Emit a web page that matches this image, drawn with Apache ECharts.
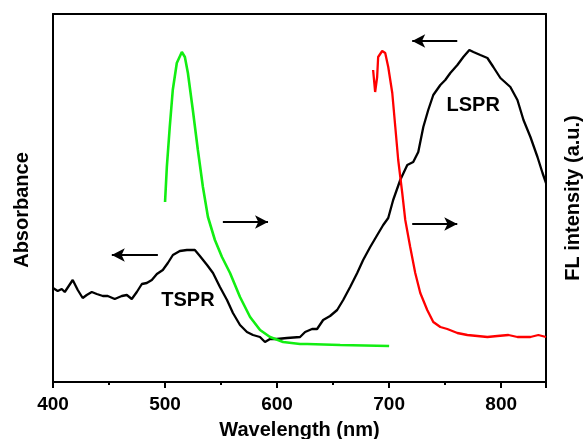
<!DOCTYPE html>
<html>
<head>
<meta charset="utf-8">
<script src="https://cdn.jsdelivr.net/npm/echarts@6/dist/echarts.min.js"></script>
<style>html,body{margin:0;padding:0;background:#fff}#c{width:584px;height:439px}</style>
</head>
<body>
<div id="c"></div>
<script>
// Absorbance spectrum (black) — wavelength nm, arbitrary units
const absWl = [400,401.5,404.2,407.8,410.5,417.6,422.1,426.5,430.1,434.6,439.1,444.5,448.9,455.1,461.4,465.9,470.3,474.8,479.3,483.7,488.2,492.7,498,502.5,507,513.2,519.5,526.6,531.1,537.5,542.8,549,555.3,560.6,566.9,573.1,578.5,584.7,589.2,593.7,599.9,608.9,620.5,625,631.2,635.7,641.1,647.3,653.6,659,665.2,671.5,676.8,683.1,689.4,694.7,699.2,703.6,709.9,716.2,721.5,726,730.5,734.9,739.4,745.7,750.1,754.6,760.9,766.2,771.6,775.2,781.4,787.7,793,799.3,808.2,814.5,819.9,826.1,832.4,836.9,840];
const absVal = [94,94,91,93,90,102,92,84,87,90,88,86,86,83,86,87,83,90,98,99,102,108,112,119,127,131,132,132,126,117,109,95,82,69,57,50,47,45,40,43,43,44,45,50,53,53,62,66,72,82,95,109,122,135,147,157,164,182,202,217,220,230,255,272,287,297,302,309,317,325,332,330,327,324,315,304,295,282,262,245,225,209,199];
// Fluorescence (green)
const flGreenWl = [500,501.6,504.2,506.9,510.5,515,517.7,520.4,524.8,529.3,533.8,538.3,544.5,550.8,558,566.9,575.9,584.8,593.7,605.4,620.5,626.8,656.3,700];
const flGreenVal = [180,215,255,292,319,330,325,309,272,232,195,165,142,125,109,85,65,52,45,40,38,38,37,36];
// Fluorescence (red)
const flRedWl = [685.7,687.5,689.3,690.2,693.8,696.5,699.2,702.8,705.5,708.1,711.7,714.4,718.8,723.3,727.8,734,739.4,745.7,751.9,760.9,769.8,778.8,787.7,796.6,806.5,814.5,826.1,833.2,840];
const flRedVal = [312,290,305,325,331,329,315,289,255,222,189,162,135,109,89,72,60,55,53,49,47,46,45,46,47,45,45,47,45];
// x axis
const xTicks = [400,500,600,700,800];
const xMin = 400, xMax = 840;
// annotations
const arrows = [[[493.6,127],[452.5,127]],[[551.6,160],[591.9,160]],[[760.8,341],[720.6,341]],[[720.6,158],[760.8,158]]];
const labels = [["TSPR",520.4,82],["LSPR",775,277]];

const zip = (a,b)=>a.map((v,i)=>[v,b[i]]);
const font = '"Liberation Sans", Arial, sans-serif';
const chart = echarts.init(document.getElementById('c'), null, {renderer:'canvas'});
chart.setOption({
  animation:false,
  backgroundColor:'#fff',
  grid:{left:53,top:14,right:38,bottom:57,outerBoundsMode:'none',containLabel:false},
  xAxis:[{
    type:'value',min:xMin,max:xMax,interval:100,
    name:'Wavelength (nm)',nameLocation:'middle',nameGap:38,
    nameTextStyle:{fontFamily:font,fontWeight:'bold',fontSize:20,color:'#000'},
    axisLine:{lineStyle:{color:'#000',width:2}},
    axisTick:{show:true,inside:false,length:6,lineStyle:{color:'#000',width:2}},
    minorTick:{show:true,splitNumber:2,length:3,lineStyle:{color:'#000',width:2}},
    axisLabel:{fontFamily:font,fontWeight:'bold',fontSize:19,color:'#000',margin:13,
      formatter:v=>xTicks.includes(v)?String(v):''},
    splitLine:{show:false}
  },{
    type:'value',min:xMin,max:xMax,position:'top',
    axisLine:{show:true,onZero:false,lineStyle:{color:'#000',width:2}},
    axisTick:{show:false},axisLabel:{show:false},splitLine:{show:false}
  }],
  yAxis:[{
    type:'value',min:0,max:368,position:'left',
    name:'Absorbance',nameLocation:'middle',nameGap:21,nameRotate:90,
    nameTextStyle:{fontFamily:font,fontWeight:'bold',fontSize:20,color:'#000',padding:[0,24,0,0]},
    axisLine:{show:true,lineStyle:{color:'#000',width:2}},
    axisTick:{show:false},axisLabel:{show:false},splitLine:{show:false}
  },{
    type:'value',min:0,max:368,position:'right',
    name:'FL intensity (a.u.)',nameLocation:'middle',nameGap:17,nameRotate:90,
    nameTextStyle:{fontFamily:font,fontWeight:'bold',fontSize:20,color:'#000'},
    axisLine:{show:true,lineStyle:{color:'#000',width:2}},
    axisTick:{show:false},axisLabel:{show:false},splitLine:{show:false}
  }],
  series:[{
    type:'line',name:'abs',data:zip(absWl,absVal),showSymbol:false,symbol:'none',
    lineStyle:{color:'#000',width:2.3},xAxisIndex:0,yAxisIndex:0,
    markLine:{
      silent:true,symbol:['none','arrow'],symbolSize:[10,13],
      lineStyle:{color:'#000',width:2,type:'solid'},label:{show:false},
      data:arrows.map(a=>[{coord:a[0]},{coord:a[1]}])
    },
    markPoint:{
      symbol:'circle',symbolSize:0,
      label:{show:true,position:'inside',fontFamily:font,fontWeight:'bold',fontSize:20,color:'#000',formatter:p=>p.name},
      data:labels.map(l=>({name:l[0],coord:[l[1],l[2]]}))
    }
  },{
    type:'line',name:'green',data:zip(flGreenWl,flGreenVal),showSymbol:false,symbol:'none',
    lineStyle:{color:'#12ee12',width:2.6},xAxisIndex:0,yAxisIndex:1
  },{
    type:'line',name:'red',data:zip(flRedWl,flRedVal),showSymbol:false,symbol:'none',
    lineStyle:{color:'#ff0000',width:2.3},xAxisIndex:0,yAxisIndex:1
  }]
});
</script>
</body>
</html>
